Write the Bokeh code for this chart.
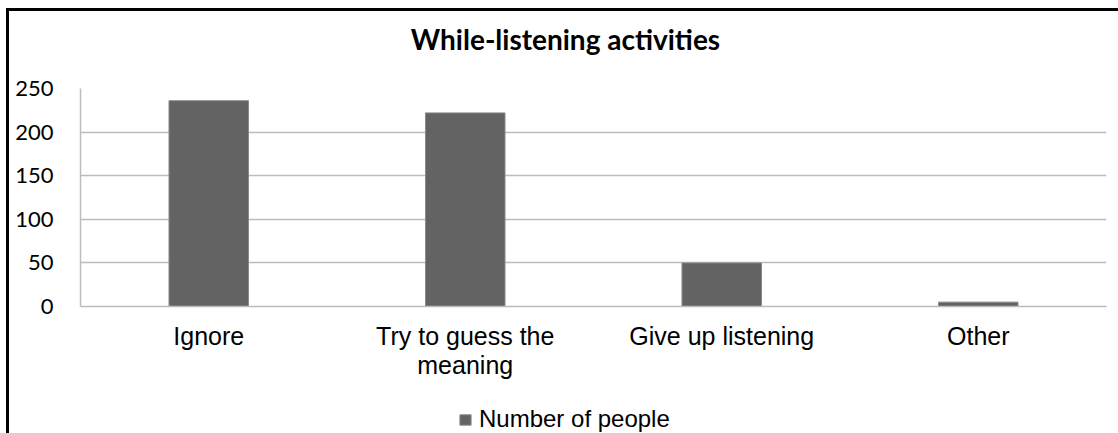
from bokeh.plotting import figure
from bokeh.layouts import column
from bokeh.models import Range1d, FixedTicker, Legend, LegendItem, Label
from bokeh.embed import file_html
from bokeh.resources import INLINE

# Survey answers: what listeners do while listening
categories = ["Ignore", "Try to guess the\nmeaning", "Give up listening", "Other"]
people = [236, 222, 50, 5]
y_ticks = [0, 50, 100, 150, 200, 250]
series_name = "Number of people"
chart_title = "While-listening activities"

BAR = "#636363"
BAR_EDGE = "#8a8a8a"
GRID = "#bcbcbc"
W = 1109


def strip(height, **kw):
    """A bare figure (no axes, no grid) used for the title and legend rows."""
    f = figure(width=W, height=height, output_backend="svg", toolbar_location=None,
               x_axis_type=None, y_axis_type=None,
               min_border_left=0, min_border_right=0,
               min_border_top=0, min_border_bottom=0, **kw)
    f.outline_line_color = None
    f.xgrid.visible = False
    f.ygrid.visible = False
    return f


# ---- title row
head = strip(50)
head.add_layout(Label(x=485, y=23, x_units="screen", y_units="screen",
                      text=chart_title, text_align="center",
                      text_baseline="alphabetic",
                      text_font="Lato", text_font_style="bold",
                      text_font_size="28px", text_color="#000000"))

# ---- bar chart
p = figure(
    x_range=categories,
    y_range=Range1d(0, 250),
    width=W,
    height=345,
    output_backend="svg",
    toolbar_location=None,
    min_border_left=71,
    min_border_right=12,
    min_border_top=27,
    min_border_bottom=100,
)
p.outline_line_color = None
p.background_fill_color = "white"
p.border_fill_color = "white"

bars = p.vbar(x=categories, top=people, width=0.31,
              fill_color=BAR, line_color=BAR_EDGE, line_width=1)

p.xgrid.visible = False
p.ygrid.grid_line_color = GRID
p.ygrid.grid_line_width = 1.5
p.yaxis.ticker = FixedTicker(ticks=y_ticks)

p.yaxis.axis_line_color = GRID
p.yaxis.axis_line_width = 1.5
p.yaxis.major_tick_line_color = None
p.yaxis.minor_tick_line_color = None
p.yaxis.major_label_standoff = 21
p.yaxis.major_label_text_font = "Lato"
p.yaxis.major_label_text_font_size = "22px"
p.yaxis.major_label_text_color = "#000000"

p.xaxis.axis_line_color = GRID
p.xaxis.axis_line_width = 1.5
p.xaxis.major_tick_line_color = None
p.xaxis.minor_tick_line_color = None
p.xaxis.major_label_standoff = 9
p.xaxis.major_label_text_font = "Liberation Sans"
p.xaxis.major_label_text_font_size = "25px"
p.xaxis.major_label_text_line_height = 1.04
p.xaxis.major_label_text_color = "#000000"

# ---- legend row: the same series drawn outside the visible range,
# so only its legend swatch shows
foot = strip(27, x_range=categories, y_range=Range1d(1000, 1001))
swatch = foot.vbar(x=categories, top=people, width=0.31,
                   fill_color=BAR, line_color=BAR_EDGE, line_width=1)
legend = Legend(
    items=[LegendItem(label=series_name, renderers=[swatch])],
    location=(378, 0),
    orientation="horizontal",
    padding=0, margin=0, spacing=0,
    glyph_width=14, glyph_height=13,
    label_standoff=7,
    label_text_font="Liberation Sans",
    label_text_font_size="24px",
    label_text_color="#000000",
    border_line_color=None,
    background_fill_alpha=0,
)
foot.add_layout(legend, "center")

page = column(head, p, foot, spacing=0)
page.styles = {
    "margin-left": "6px",
    "margin-top": "8px",
    "border-top": "3px solid #000000",
    "border-left": "3px solid #000000",
}

open("out.html", "w").write(file_html(page, INLINE))
